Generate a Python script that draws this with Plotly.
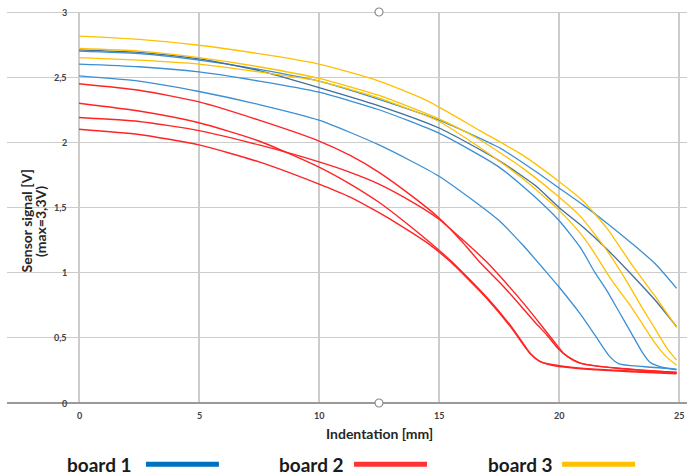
import plotly.graph_objects as go

# ---------------- data ----------------
# board 1 (blue)
b1a_x = [0, 2.5, 5, 7.5, 10, 12.5, 15, 17.5, 19, 20, 21, 22, 23, 24, 24.9]
b1a_y = [2.70, 2.68, 2.63, 2.56, 2.47, 2.33, 2.17, 1.96, 1.78, 1.65, 1.52, 1.38, 1.23, 1.07, 0.88]

b1d_x = [0, 2.5, 5, 7.5, 10, 12.5, 15, 17.5, 19, 20, 21, 22, 23, 24, 24.9]
b1d_y = [2.71, 2.69, 2.64, 2.55, 2.42, 2.28, 2.11, 1.86, 1.67, 1.50, 1.35, 1.18, 0.99, 0.79, 0.585]

b1b_x = [0, 2.5, 5, 7.5, 10, 12.5, 15, 17.5, 19, 20, 20.9, 21.5, 22, 22.5, 23, 23.5, 23.8, 24.2, 24.9]
b1b_y = [2.60, 2.58, 2.54, 2.47, 2.385, 2.25, 2.07, 1.81, 1.58, 1.40, 1.19, 1.00, 0.86, 0.70, 0.54, 0.38, 0.31, 0.28, 0.255]

b1c_x = [0, 2.5, 5, 7.5, 10, 12.5, 15, 17.5, 18.5, 19.4, 20, 20.9, 21.5, 22.1, 22.5, 23.5, 24.9]
b1c_y = [2.51, 2.47, 2.39, 2.29, 2.17, 1.98, 1.74, 1.40, 1.21, 1.02, 0.89, 0.68, 0.52, 0.36, 0.30, 0.28, 0.26]

# board 2 (red)
b2a_x = [0, 2.5, 5, 7.5, 10, 11.3, 12.5, 14, 15, 16, 16.7, 17.5, 18.1, 19, 19.5, 20, 20.4, 20.8, 21.5, 22.5, 23.5, 24.9]
b2a_y = [2.45, 2.40, 2.31, 2.17, 2.01, 1.90, 1.77, 1.57, 1.42, 1.23, 1.08, 0.93, 0.81, 0.62, 0.52, 0.41, 0.35, 0.31, 0.285, 0.265, 0.25, 0.235]

b2c_x = [0, 2.5, 5, 7.5, 10, 11.3, 12.5, 14, 15, 16, 17, 17.7, 18.5, 19.2, 19.8, 20.2, 20.6, 21, 22, 23, 24, 24.9]
b2c_y = [2.19, 2.16, 2.09, 1.98, 1.85, 1.77, 1.68, 1.53, 1.41, 1.25, 1.08, 0.94, 0.77, 0.61, 0.47, 0.38, 0.33, 0.30, 0.275, 0.26, 0.245, 0.235]

b2b_x = [0, 2.5, 5, 7.5, 10, 11.3, 12.5, 13.5, 14.5, 15.5, 16, 17, 18, 18.5, 18.8, 19.2, 19.7, 20.5, 21.5, 23, 24.9]
b2b_y = [2.30, 2.24, 2.15, 2.01, 1.81, 1.68, 1.54, 1.40, 1.25, 1.09, 1.00, 0.81, 0.59, 0.46, 0.38, 0.32, 0.295, 0.275, 0.26, 0.245, 0.23]

b2d_x = [0, 2.5, 5, 7.5, 10, 11.3, 12.5, 13.5, 14.5, 15.5, 16, 17, 18, 18.5, 18.8, 19.2, 19.7, 20.5, 21.5, 23, 24.9]
b2d_y = [2.10, 2.06, 1.98, 1.85, 1.68, 1.58, 1.46, 1.35, 1.23, 1.08, 0.99, 0.80, 0.58, 0.45, 0.38, 0.32, 0.29, 0.27, 0.255, 0.24, 0.225]

# board 3 (yellow)
b3a_x = [0, 2.5, 5, 7.5, 10, 12.5, 14.5, 16.7, 18.5, 20, 21, 22, 23, 24, 24.9]
b3a_y = [2.815, 2.79, 2.745, 2.68, 2.60, 2.47, 2.32, 2.09, 1.90, 1.70, 1.55, 1.34, 1.07, 0.82, 0.58]

b3b_x = [0, 2.5, 5, 7.5, 10, 12.5, 15, 16.7, 18.5, 20, 20.9, 22, 22.7, 23.5, 24, 24.5, 24.9]
b3b_y = [2.72, 2.70, 2.65, 2.58, 2.49, 2.36, 2.18, 2.02, 1.80, 1.58, 1.43, 1.17, 0.97, 0.72, 0.57, 0.42, 0.33]

b3c_x = [0, 2.5, 5, 7.5, 10, 12.5, 15, 16.7, 18.5, 20, 20.9, 21.3, 22.2, 23, 23.5, 24, 24.5, 24.9]
b3c_y = [2.65, 2.63, 2.60, 2.54, 2.47, 2.34, 2.16, 1.96, 1.72, 1.48, 1.30, 1.20, 0.94, 0.74, 0.60, 0.46, 0.35, 0.29]

x_ticks = [0, 5, 10, 15, 20, 25]
x_tick_labels = ["0", "5", "10", "15", "20", "25"]
y_ticks = [0, 0.5, 1, 1.5, 2, 2.5, 3]
y_tick_labels = ["0", "0,5", "1", "1,5", "2", "2,5", "3"]
legend_names = ["board 1", "board 2", "board 3"]

BLUE = "#3B8FD3"
DARK = "#3F6F9C"
RED = "#FF2424"
YELLOW = "#FFC000"

fig = go.Figure()

def add(x, y, color, w=1.3):
    fig.add_trace(go.Scatter(x=x, y=y, mode="lines",
                             line=dict(color=color, width=w, shape="spline", smoothing=0.6),
                             showlegend=False, hoverinfo="skip"))

for xs, ys in [(b1a_x, b1a_y), (b1b_x, b1b_y), (b1c_x, b1c_y)]:
    add(xs, ys, BLUE)
add(b1d_x, b1d_y, DARK)
for xs, ys in [(b3a_x, b3a_y), (b3b_x, b3b_y), (b3c_x, b3c_y)]:
    add(xs, ys, YELLOW)
for xs, ys in [(b2a_x, b2a_y), (b2b_x, b2b_y), (b2c_x, b2c_y), (b2d_x, b2d_y)]:
    add(xs, ys, RED, 1.4)

# selection handles
fig.add_trace(go.Scatter(x=[12.5, 12.5], y=[3, 0], mode="markers",
                         marker=dict(symbol="circle", size=8, color="white",
                                     line=dict(color="#8c8c8c", width=1.2)),
                         cliponaxis=False, showlegend=False, hoverinfo="skip"))

FONT = "Lato"
TICKFONT = dict(size=9, color="#404040", family=FONT, weight="bold")
fig.update_layout(
    width=687, height=475,
    margin=dict(l=7, r=0, t=11.5, b=72.3, autoexpand=False),
    paper_bgcolor="white", plot_bgcolor="white",
    showlegend=False, hovermode=False,
    font=dict(family=FONT, color="#404040"),
    xaxis=dict(range=[-3.0, 25.333], tickvals=x_ticks, showticklabels=False,
               showgrid=True, gridcolor="#cccccc", gridwidth=1.1,
               zeroline=False, showline=False, automargin=False),
    yaxis=dict(range=[0, 3], tickvals=y_ticks, showticklabels=False,
               showgrid=True, gridcolor="#cccccc", gridwidth=1.1,
               zeroline=True, zerolinecolor="#9a9a9a", zerolinewidth=1.2,
               showline=False, automargin=False),
)

# top border line
fig.add_shape(type="line", xref="paper", yref="y", x0=0, x1=1, y0=3, y1=3,
              line=dict(color="#9a9a9a", width=1.2), layer="below")

# x tick labels
for v, t in zip(x_ticks, x_tick_labels):
    fig.add_annotation(x=v, y=-0.031, xref="x", yref="paper", text=t, showarrow=False,
                       xanchor="center", yanchor="middle", font=TICKFONT)

# y tick labels
for v, t in zip(y_ticks, y_tick_labels):
    fig.add_annotation(x=-0.42, y=v, xref="x", yref="y", text=t, showarrow=False,
                       xanchor="right", yanchor="middle", font=TICKFONT)

# axis titles
fig.add_annotation(x=12.5, y=-0.0775, xref="x", yref="paper", text="<b>Indentation [mm]</b>",
                   showarrow=False, xanchor="center", yanchor="middle",
                   font=dict(size=14, color="#262626", family=FONT))
fig.add_annotation(x=-2.2, y=0.465, xref="x", yref="paper",
                   text="<b>Sensor signal [V]</b>", textangle=-90,
                   showarrow=False, xanchor="center", yanchor="middle",
                   font=dict(size=14, color="#262626", family=FONT))
fig.add_annotation(x=-1.63, y=0.465, xref="x", yref="paper",
                   text="<b>(max=3,3V)</b>", textangle=-90,
                   showarrow=False, xanchor="center", yanchor="middle",
                   font=dict(size=14, color="#262626", family=FONT))

# legend (x in data units, y in paper units below the plot)
leg_y = -0.1567
leg_text_x = [0.85, 9.7, 18.4]
leg_line = [(2.79, 5.83, "#0070C0"), (11.46, 14.5, "#FF3333"), (20.13, 23.17, "#FFC000")]
for name, tx, (l0, l1, c) in zip(legend_names, leg_text_x, leg_line):
    fig.add_annotation(x=tx, y=leg_y, xref="x", yref="paper",
                       text="<b>" + name + "</b>", showarrow=False,
                       xanchor="center", yanchor="middle",
                       font=dict(size=19, color="#1a1a1a", family=FONT))
    fig.add_shape(type="line", xref="x", yref="paper",
                  x0=l0, x1=l1, y0=leg_y, y1=leg_y,
                  line=dict(color=c, width=5))

fig.write_html("out.html",
               config={"displayModeBar": False, "staticPlot": True},
               post_script="document.body.style.margin='0';document.body.style.overflow='hidden';")
